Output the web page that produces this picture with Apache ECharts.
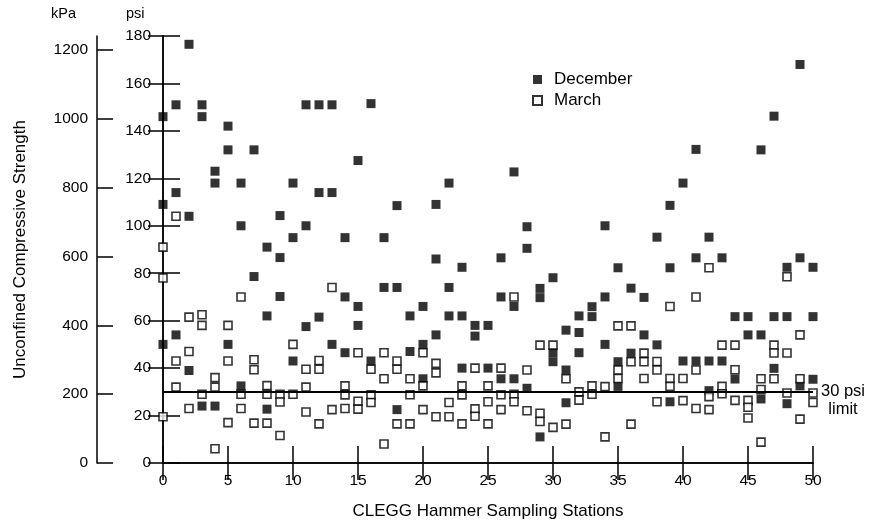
<!DOCTYPE html>
<html><head><meta charset="utf-8">
<script src="https://cdn.jsdelivr.net/npm/echarts@6/dist/echarts.min.js"></script>
<style>html,body{margin:0;padding:0;background:#fff}#c{width:870px;height:529px}</style>
</head><body><div id="c"></div>
<script>
// Unconfined compressive strength (psi) per CLEGG Hammer sampling station (index = station 0..50)
const decemberPsi = [
  [146,109,50],[151,114,54],[176.5,104,39],[151,146,24],[123,118,24],
  [142,132,50],[118,100,32.5],[132,78.6],[91,62,22.7],[104.3,86.6,70.2],
  [118,95,43],[151,100,57.5],[151,114,61.5],[151,114,50],[95,70,46.5],
  [127.5,66,58],[151.5,43],[95,74],[108.5,74,22.5],[62,47],
  [66,50,35.5],[109,86,54],[118,74,62],[82.5,62,40],[58,53.5],
  [58,40],[86.5,70,35.5],[122.7,66,35.5],[99.6,90.5,31.5],[73.6,69.7,11],
  [78.1,46.5,42.7],[56,39.2,25.4],[62,55,46.5],[65.9,61.7],[100,70,50],
  [82.3,42.7,32.3],[73.7,46.3],[69.8,54],[95.2,49.8],[108.6,82.3,25.8],
  [118,43],[132.2,86.5,43],[95.2,43,30.5],[86.5,43],[61.7,35.4],
  [61.7,54],[132,54,27],[146.2,61.7,39.9],[82.5,61.7,25],[168,86.5,32.5],
  [82.5,61.7,35.3]
];
const marchPsi = [
  [91,78,19.5],[104,43,32],[61.5,47,23],[62.5,58,29],[36,32,6],
  [58,43,17],[70,29,23],[43.5,39.3,16.8],[32.6,29,16.8],[29,25.7,11.6],
  [50,29],[39.5,32,21.5],[43.2,39.5,16.5],[74,22.5],[32.5,28.7,23],
  [46.5,26,22.7],[39.5,28.7,25.5],[46.5,35.5,8],[43,39.5,16.5],[35.5,28.8,16.5],
  [46.5,32.5,22.5],[42,38,19.5],[25.5,19.5],[32.5,28.7,16.5],[40,22.8,19.7],
  [32.5,25.8,16.5],[40,28.8,22.5],[70,29,25.8],[39.2,22],[49.7,21,17.5],
  [49.7,15],[35.5,16.4],[30,26.5],[32.5,29],[32.2,11],
  [57.8,39.2,35.6],[57.8,42.7,16.4],[46.3,42.7,35.6],[42.8,39.2,25.8],[66,35.6,32.3],
  [35.6,26.3],[70,39.2,23],[82.3,28,22.5],[49.7,32.3,29.2],[49.7,39.3,26.4],
  [26.4,23.5,19],[35.5,31,8.8],[49.7,46.4,35.5],[78.5,46.4,29.5],[54,35.5,18.5],
  [29.5,25.5]
];
const psiTicks = [0,20,40,60,80,100,120,140,160,180];
const kpaTicks = [0,200,400,600,800,1000,1200];
const stationTicks = [0,5,10,15,20,25,30,35,40,45,50];
const limitPsi = 30;
const PSI_TO_KPA = 6.894757;

function flatten(arr){
  const out=[];
  arr.forEach((vals,st)=>vals.forEach(v=>out.push([st,v])));
  return out;
}
const FONT = "'Liberation Sans', Arial, Helvetica, sans-serif";
const chart = echarts.init(document.getElementById('c'));
const tickStyle = {show:true, inside:true, length:17, lineStyle:{color:'#000', width:1.5}};
const lineStyle = {show:true, lineStyle:{color:'#000', width:1.5}};
const plain = v => String(Math.round(v));
chart.setOption({
  animation:false,
  textStyle:{fontFamily:FONT, color:'#000'},
  grid:{left:163, right:57, top:36, bottom:66},
  legend:{
    orient:'vertical', left:532, top:71, padding:0, itemWidth:9, itemHeight:9, itemGap:4,
    textStyle:{fontSize:17, color:'#000', fontFamily:FONT, padding:[0,0,0,7]},
    data:['December','March']
  },
  xAxis:[
    {type:'value', position:'bottom', min:0, max:50, interval:5,
     axisLine:lineStyle, axisTick:tickStyle, splitLine:{show:false},
     axisLabel:{fontSize:15.5, color:'#000', margin:10, fontFamily:FONT, customValues:stationTicks, formatter:plain},
     name:'CLEGG Hammer Sampling Stations', nameLocation:'middle', nameGap:40,
     nameTextStyle:{fontSize:17, color:'#000', fontFamily:FONT}},
    {type:'value', position:'top', min:0, max:50, interval:5,
     axisLine:lineStyle, axisTick:tickStyle, axisLabel:{show:false}, splitLine:{show:false}}
  ],
  yAxis:[
    {type:'value', position:'left', min:0, max:180, interval:20,
     axisLine:lineStyle, axisTick:tickStyle, splitLine:{show:false},
     axisLabel:{fontSize:15.5, color:'#000', margin:12, fontFamily:FONT, customValues:psiTicks, formatter:plain}},
    {type:'value', position:'right', min:0, max:180, interval:20,
     axisLine:lineStyle, axisTick:Object.assign({}, tickStyle, {length:15}), axisLabel:{show:false}, splitLine:{show:false}},
    {type:'value', position:'left', offset:66, min:0, max:180*PSI_TO_KPA,
     axisLine:lineStyle,
     axisTick:{show:true, inside:true, length:16, lineStyle:{color:'#000', width:1.5}, customValues:kpaTicks},
     axisLabel:{fontSize:15.5, color:'#000', margin:9, fontFamily:FONT, customValues:kpaTicks, formatter:plain},
     splitLine:{show:false},
     name:'Unconfined Compressive Strength', nameLocation:'middle', nameRotate:90, nameGap:68,
     nameTextStyle:{fontSize:17, color:'#000', fontFamily:FONT}}
  ],
  graphic:[
    {type:'text', left:51, top:6, style:{text:'kPa', font:'14.5px '+FONT, fill:'#000'}},
    {type:'text', left:126, top:6, style:{text:'psi', font:'14.5px '+FONT, fill:'#000'}}
  ],
  series:[
    {name:'December', type:'scatter', xAxisIndex:0, yAxisIndex:0, symbol:'rect', symbolSize:9,
     itemStyle:{color:'#000'}, data:flatten(decemberPsi), z:3},
    {name:'March', type:'scatter', xAxisIndex:0, yAxisIndex:0, symbol:'rect', symbolSize:8,
     itemStyle:{color:'#fff', borderColor:'#000', borderWidth:1.6}, data:flatten(marchPsi), z:4,
     markLine:{silent:true, symbol:'none', z:5,
       lineStyle:{color:'#000', width:2, type:'solid'},
       label:{position:'end', distance:30, align:'center', formatter:'\n30 psi\nlimit',
              fontSize:16.5, lineHeight:18, color:'#000', fontFamily:FONT},
       data:[{yAxis:limitPsi}]}}
  ]
});
</script></body></html>
